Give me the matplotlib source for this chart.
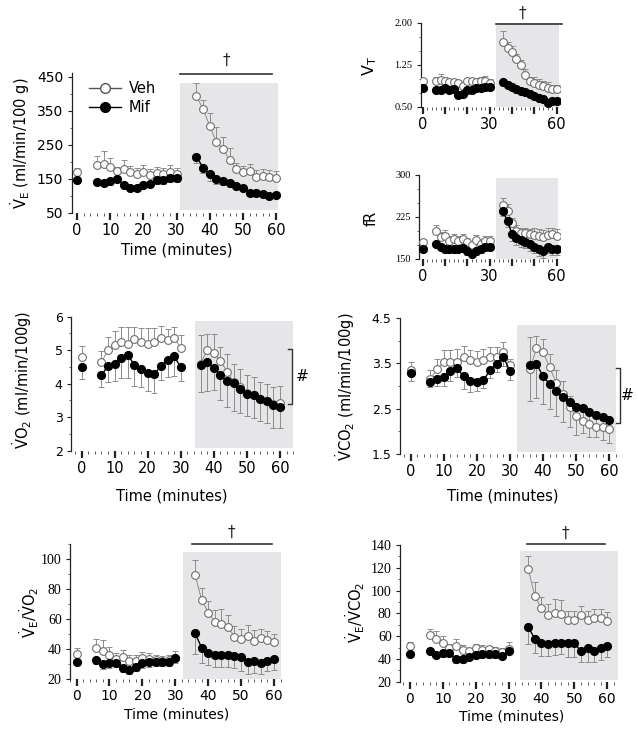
import numpy as np
import matplotlib
matplotlib.use('Agg')
import matplotlib.pyplot as plt
from matplotlib.lines import Line2D
from matplotlib.patches import Rectangle
from matplotlib.ticker import MultipleLocator, FixedLocator

plt.rcParams['font.family'] = ['DejaVu Sans']
plt.rcParams['mathtext.default'] = 'regular'

W, H = 638, 729

# tiempo (minutos): basal, 6-30, 36-60
tiempo = [0, 6, 8, 10, 12, 14, 16, 18, 20, 22, 24, 26, 28, 30,
          36, 38, 40, 42, 44, 46, 48, 50, 52, 54, 56, 58, 60]
tramos = [(0, 1), (1, 14), (14, 27)]

# VE (ml/min/100 g)
veh_ve = [170, 192, 195, 185, 172, 180, 170, 165, 170, 160, 168, 165, 170, 165,
          392, 355, 305, 258, 238, 205, 180, 170, 172, 155, 158, 155, 152]
veh_ve_err = [12, 24, 38, 27, 14, 24, 18, 18, 20, 18, 18, 18, 20, 18,
              40, 25, 37, 44, 36, 36, 18, 18, 23, 22, 22, 22, 20]
mif_ve = [147, 142, 139, 143, 150, 132, 124, 124, 132, 135, 146, 146, 152, 152,
          215, 183, 163, 150, 144, 137, 130, 124, 110, 108, 105, 101, 104]
mif_ve_err = [8, 10, 10, 10, 10, 10, 8, 8, 8, 10, 12, 12, 12, 12,
              18, 15, 18, 15, 12, 10, 10, 8, 8, 8, 8, 8, 8]

# VT
veh_vt = [0.97, 0.955, 0.98, 0.955, 0.94, 0.94, 0.925, 0.88, 0.955, 0.955, 0.94, 0.955, 0.955, 0.925,
          1.66, 1.545, 1.47, 1.35, 1.24, 1.07, 0.955, 0.925, 0.895, 0.87, 0.84, 0.82, 0.82]
veh_vt_err = [0.03, 0.08, 0.1, 0.08, 0.06, 0.06, 0.05, 0.05, 0.06, 0.06, 0.08, 0.08, 0.1, 0.08,
              0.2, 0.12, 0.12, 0.1, 0.1, 0.1, 0.08, 0.1, 0.1, 0.1, 0.1, 0.08, 0.08]
mif_vt = [0.84, 0.80, 0.80, 0.84, 0.80, 0.82, 0.72, 0.74, 0.80, 0.81, 0.84, 0.84, 0.85, 0.855,
          0.94, 0.90, 0.855, 0.82, 0.79, 0.76, 0.73, 0.69, 0.66, 0.64, 0.58, 0.61, 0.61]
mif_vt_err = [0.03, 0.04, 0.04, 0.04, 0.04, 0.04, 0.04, 0.04, 0.04, 0.04, 0.04, 0.04, 0.04, 0.04,
              0.04, 0.04, 0.04, 0.04, 0.04, 0.04, 0.04, 0.04, 0.04, 0.04, 0.04, 0.04, 0.04]

# fR
veh_fr = [180, 200, 189, 191, 183, 186, 183, 186, 180, 175, 184, 177, 183, 183,
          247, 236, 214, 200, 196, 196, 194, 193, 191, 190, 193, 194, 191]
veh_fr_err = [5, 10, 10, 10, 8, 8, 8, 8, 8, 8, 8, 8, 8, 8,
              12, 12, 10, 10, 10, 10, 10, 12, 12, 12, 12, 12, 12]
mif_fr = [168, 177, 172, 167, 168, 167, 168, 170, 164, 159, 164, 167, 171, 172,
          235, 217, 195, 187, 184, 181, 177, 172, 168, 164, 171, 167, 168]
mif_fr_err = [5, 6, 6, 6, 6, 6, 6, 6, 6, 6, 6, 6, 6, 6,
              8, 10, 12, 12, 12, 12, 12, 12, 12, 12, 10, 10, 10]

# VO2 (ml/min/100g)
veh_vo2 = [4.80, 4.64, 5.0, 5.17, 5.23, 5.2, 5.32, 5.25, 5.2, 5.23, 5.36, 5.31, 5.36, 5.07,
           4.6, 5.0, 4.92, 4.68, 4.36, 4.05, 3.9, 3.72, 3.66, 3.55, 3.48, 3.4, 3.43]
veh_vo2_err = [0.34, 0.33, 0.4, 0.4, 0.45, 0.5, 0.36, 0.4, 0.45, 0.42, 0.36, 0.33, 0.33, 0.37,
               0.85, 0.47, 0.55, 0.42, 0.54, 0.55, 0.55, 0.55, 0.55, 0.5, 0.5, 0.5, 0.5]
mif_vo2 = [4.49, 4.25, 4.54, 4.59, 4.77, 4.85, 4.56, 4.43, 4.31, 4.28, 4.54, 4.71, 4.82, 4.49,
           4.56, 4.66, 4.48, 4.25, 4.07, 4.02, 3.85, 3.70, 3.66, 3.55, 3.48, 3.36, 3.30]
mif_vo2_err = [0.34, 0.35, 0.5, 0.5, 0.6, 0.67, 0.64, 0.54, 0.52, 0.56, 0.42, 0.52, 0.6, 0.42,
               0.8, 0.88, 0.66, 0.75, 0.78, 0.83, 0.72, 0.66, 0.69, 0.66, 0.64, 0.67, 0.63]

# VCO2 (ml/min/100g)
veh_vco2 = [3.36, 3.15, 3.37, 3.52, 3.54, 3.54, 3.63, 3.57, 3.54, 3.57, 3.63, 3.65, 3.76, 3.46,
            3.37, 3.83, 3.74, 3.41, 3.06, 2.82, 2.53, 2.34, 2.22, 2.16, 2.10, 2.09, 2.06]
veh_vco2_err = [0.18, 0.2, 0.22, 0.27, 0.26, 0.28, 0.26, 0.22, 0.24, 0.24, 0.22, 0.2, 0.2, 0.13,
                0.7, 0.28, 0.3, 0.3, 0.3, 0.3, 0.25, 0.2, 0.2, 0.2, 0.2, 0.2, 0.2]
mif_vco2 = [3.28, 3.09, 3.15, 3.19, 3.32, 3.39, 3.21, 3.12, 3.08, 3.13, 3.35, 3.49, 3.65, 3.32,
            3.46, 3.49, 3.21, 3.04, 2.88, 2.76, 2.64, 2.53, 2.51, 2.43, 2.37, 2.31, 2.25]
mif_vco2_err = [0.16, 0.11, 0.15, 0.18, 0.2, 0.2, 0.27, 0.26, 0.2, 0.18, 0.18, 0.18, 0.2, 0.19,
                0.8, 0.75, 0.6, 0.55, 0.55, 0.55, 0.55, 0.6, 0.55, 0.55, 0.5, 0.5, 0.5]

# VE/VO2
veh_vevo2 = [36.7, 40.7, 38.9, 36.2, 33.3, 34.7, 32.4, 32.2, 34, 33.3, 32.9, 32.2, 32.9, 34,
             89.6, 72.9, 64.4, 58.4, 56.9, 54.7, 48.4, 46.7, 48.9, 45.8, 47.3, 46.2, 45.1]
veh_vevo2_err = [4, 6, 7, 5, 4, 5, 4, 4, 4, 4, 3, 3, 3, 5,
                 10, 8, 8, 8, 10, 8, 7, 7, 7, 7, 6, 6, 5]
mif_vevo2 = [31.3, 32.9, 30, 30.7, 31.1, 27.8, 26.2, 28.4, 30.7, 31.3, 31.8, 31.8, 31.8, 34,
             50.7, 41.1, 37.8, 36.2, 36.2, 36.2, 35.6, 34.7, 31.8, 32.4, 30.7, 32.4, 33.3]
mif_vevo2_err = [2, 3, 3, 3, 3, 3, 3, 3, 3, 3, 3, 3, 3, 3,
                 14, 10, 8, 8, 8, 8, 8, 9, 8, 8, 7, 7, 7]

# VE/VCO2
veh_vevco2 = [51.6, 61, 57.2, 53.7, 49.3, 51.3, 47.8, 46.9, 49.3, 47.8, 48.7, 47.2, 46.3, 48.7,
              118.6, 95.2, 84.4, 78.5, 80.6, 79.4, 74.2, 74.2, 78.5, 74.2, 76.2, 75.6, 73.6]
veh_vevco2_err = [3, 5, 7, 6, 4, 6, 4, 3, 4, 4, 3, 3, 3, 6,
                  12, 12, 10, 10, 12, 12, 8, 8, 8, 8, 8, 8, 8]
mif_vevco2 = [44, 46.9, 43.4, 44.9, 45.5, 39.6, 39.6, 42, 43.4, 44, 44, 44, 42.5, 46.9,
              68.3, 57.2, 54.3, 52.8, 53.7, 54.3, 53.7, 53.7, 46.9, 49.3, 46.9, 49.3, 51.3]
mif_vevco2_err = [2, 3, 3, 3, 3, 3, 3, 3, 3, 3, 3, 3, 3, 3,
                  15, 12, 12, 10, 10, 10, 12, 12, 10, 12, 10, 10, 10]

GRIS = '#e6e6e8'
fig = plt.figure(figsize=(W / 100, H / 100), dpi=100)


def px(x, y):
    return x / W, 1 - y / H


def crear_panel(l, t, r, b, xlim, ylim, ymaj, ymin, xetq=None, fy=9.5, fx=10, serif=False):
    ax = fig.add_axes([l / W, 1 - b / H, (r - l) / W, (b - t) / H])
    ax.set_xlim(xlim)
    ax.set_ylim(ylim)
    for s in ['top', 'right', 'bottom']:
        ax.spines[s].set_visible(False)
    ax.spines['left'].set_color('#222')
    ax.spines['left'].set_linewidth(0.9)
    ax.xaxis.set_major_locator(FixedLocator([0, 10, 20, 30, 40, 50, 60]))
    ax.xaxis.set_minor_locator(MultipleLocator(2))
    if xetq is not None:
        ax.set_xticklabels(xetq)
    ax.yaxis.set_major_locator(FixedLocator(ymaj))
    ax.yaxis.set_minor_locator(MultipleLocator(ymin))
    ax.tick_params(axis='x', which='major', direction='out', length=4.8, width=1.6, pad=2.5,
                   labelsize=fx, color='#222')
    ax.tick_params(axis='x', which='minor', direction='out', length=1.8, width=0.6, color='#444')
    ax.tick_params(axis='y', which='major', direction='out', length=3, width=0.8, pad=3,
                   labelsize=fy, color='#222')
    ax.tick_params(axis='y', which='minor', direction='out', length=1.6, width=0.6, color='#555')
    if serif:
        for lb in ax.get_yticklabels():
            lb.set_fontfamily('Liberation Serif')
    return ax


def sombra(ax, x0, x1, y0, y1):
    ax.add_patch(Rectangle((x0, y0), x1 - x0, y1 - y0, color=GRIS, lw=0, zorder=0))


def series(ax, veh, veh_err, mif, mif_err, ms=5.6):
    t = np.array(tiempo)
    veh = np.array(veh); mif = np.array(mif)
    veh_err = np.array(veh_err); mif_err = np.array(mif_err)
    for a, b in tramos:
        ax.errorbar(t[a:b], veh[a:b], yerr=[np.zeros(b - a), veh_err[a:b]], fmt='none',
                    ecolor='#8c8c8c', elinewidth=0.7, capsize=2, capthick=0.7, zorder=2)
        ax.plot(t[a:b], veh[a:b], '-o', color='#8c8c8c', lw=0.7, mfc='white', mec='#707070',
                mew=0.8, ms=ms, zorder=3)
        ax.errorbar(t[a:b], mif[a:b], yerr=[mif_err[a:b], np.zeros(b - a)], fmt='none',
                    ecolor='#8c8c8c', elinewidth=0.7, capsize=2, capthick=0.7, zorder=2)
        ax.plot(t[a:b], mif[a:b], '-o', color='black', lw=1.0, mfc='black', mec='black',
                ms=ms, zorder=4)


def daga(ax, x0, x1, y, xt, yt):
    ax.plot([x0, x1], [y, y], color='#333', lw=1.2, clip_on=False, zorder=5)
    ax.text(xt, yt, '†', ha='center', va='center', fontsize=11, color='#222', clip_on=False)


def corchete(ax, x, y0, y1, dx, xt):
    ax.plot([x - dx, x, x, x - dx], [y0, y0, y1, y1], color='#333', lw=1.0, clip_on=False)
    ax.text(xt, (y0 + y1) / 2, '#', ha='center', va='center', fontsize=11, clip_on=False)


# --- VE ---
ax = crear_panel(71.5, 73.2, 281, 213, (-1.7, 61.5), (50, 460), [50, 150, 250, 350, 450], 50,
                 fy=10, fx=10.5)
sombra(ax, 31, 60.6, 59, 431)
series(ax, veh_ve, veh_ve_err, mif_ve, mif_ve_err)
daga(ax, 31, 58.8, 458, 45, 497)
manijas = [Line2D([], [], color='#555', lw=1, marker='o', mfc='white', mec='#555', ms=7),
           Line2D([], [], color='black', lw=1, marker='o', mfc='black', mec='black', ms=7)]
ax.legend(manijas, ['Veh', 'Mif'], loc='upper left', frameon=False, fontsize=10.5,
          handlelength=2.2, handletextpad=0.5, labelspacing=0.25, borderpad=0,
          bbox_to_anchor=px(82, 74), bbox_transform=fig.transFigure)
fig.text(*px(20, 143), r'$\dot{V}_E$ (ml/min/100 g)', rotation=90, ha='center', va='center',
         fontsize=10.5)
fig.text(*px(177, 250), 'Time (minutes)', ha='center', va='center', fontsize=10.5)

# --- VT ---
ax = crear_panel(420.7, 22.7, 560, 107, (-0.9, 61.5), (0.5, 2.0), [0.5, 1.25, 2.0], 0.25,
                 xetq=['0', '', '', '30', '', '', '60'], fy=7.5, fx=10.5, serif=True)
ax.set_yticklabels(['0.50', '1.25', '2.00'], fontfamily='Liberation Serif')
sombra(ax, 32.9, 61.0, 0.5, 2.0)
series(ax, veh_vt, veh_vt_err, mif_vt, mif_vt_err)
daga(ax, 32.9, 62.2, 1.985, 44.8, 2.17)
fig.text(*px(370, 66), r'$V_T$', rotation=90, ha='center', va='center', fontsize=11.5)

# --- fR ---
ax = crear_panel(419, 175, 560, 259, (-1.66, 61.5), (150, 300), [150, 225, 300], 25,
                 xetq=['0', '', '', '30', '', '', '60'], fy=7.5, fx=10.5, serif=True)
sombra(ax, 32.9, 60.8, 150, 295)
series(ax, veh_fr, veh_fr_err, mif_fr, mif_fr_err)
fig.text(*px(371, 218), 'fR', rotation=90, ha='center', va='center', fontsize=10.5)

# --- VO2 ---
ax = crear_panel(71, 316.7, 293.2, 450.7, (-3.2, 64), (2, 6), [2, 3, 4, 5, 6], 0.5,
                 fy=9, fx=10.5)
sombra(ax, 34.3, 63.8, 2.08, 5.88)
series(ax, veh_vo2, veh_vo2_err, mif_vo2, mif_vo2_err)
corchete(ax, 63.6, 5.03, 3.39, 1.2, 66.6)
fig.text(*px(22, 380), r'$\dot{V}O_2$ (ml/min/100g)', rotation=90, ha='center', va='center',
         fontsize=10.5)
fig.text(*px(172, 496), 'Time (minutes)', ha='center', va='center', fontsize=10.5)

# --- VCO2 ---
ax = crear_panel(400, 318, 616, 454, (-3.2, 62), (1.5, 4.5), [1.5, 2.5, 3.5, 4.5], 0.5,
                 fy=9, fx=10.5)
sombra(ax, 32.2, 62.0, 1.55, 4.35)
series(ax, veh_vco2, veh_vco2_err, mif_vco2, mif_vco2_err)
corchete(ax, 63.2, 3.40, 2.19, 1.2, 65.3)
fig.text(*px(345, 387), r'$\dot{V}CO_2$ (ml/min/100g)', rotation=90, ha='center', va='center',
         fontsize=10.5)
fig.text(*px(503, 496), 'Time (minutes)', ha='center', va='center', fontsize=10.5)

# --- VE/VO2 ---
ax = crear_panel(70, 544, 281.2, 679.3, (-2.0, 62.2), (20, 110), [20, 40, 60, 80, 100], 10,
                 fy=10, fx=10, serif=True)
sombra(ax, 32.4, 62.1, 20, 105)
series(ax, veh_vevo2, veh_vevo2_err, mif_vevo2, mif_vevo2_err)
daga(ax, 35.2, 59.3, 110, 47.1, 117.5)
fig.text(*px(29, 612), r'$\dot{V}_E/\dot{V}O_2$', rotation=90, ha='center', va='center',
         fontsize=10.5)
fig.text(*px(177, 714), 'Time (minutes)', ha='center', va='center', fontsize=10)

# --- VE/VCO2 ---
ax = crear_panel(400, 545, 618.1, 681.7, (-3.0, 63.3), (20, 140), [20, 40, 60, 80, 100, 120, 140],
                 10, fy=10, fx=10, serif=True)
sombra(ax, 33.5, 63.2, 21.5, 135)
series(ax, veh_vevco2, veh_vevco2_err, mif_vevco2, mif_vevco2_err)
daga(ax, 35.5, 59.3, 140.6, 47.4, 150.5)
fig.text(*px(355, 612), r'$\dot{V}_E/\dot{V}CO_2$', rotation=90, ha='center', va='center',
         fontsize=10.5)
fig.text(*px(512, 717), 'Time (minutes)', ha='center', va='center', fontsize=10)

fig.savefig('out.png', dpi=100)
